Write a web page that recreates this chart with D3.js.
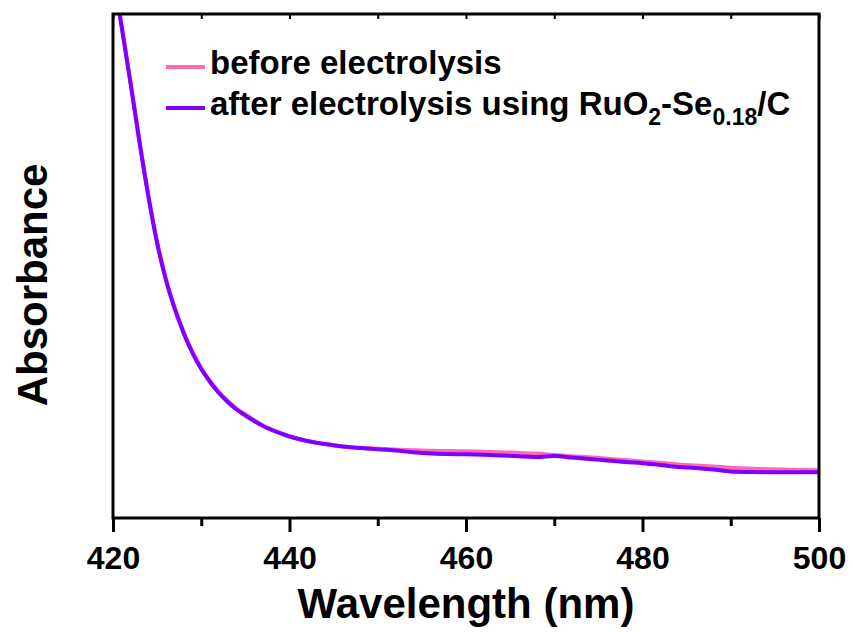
<!DOCTYPE html>
<html>
<head>
<meta charset="utf-8">
<script src="https://cdn.jsdelivr.net/npm/d3@7"></script>
<style>
  html, body { margin: 0; padding: 0; background: #fff; }
  svg text { font-family: Arial, "Liberation Sans", sans-serif; font-weight: bold; fill: #000; }
</style>
</head>
<body>
<svg id="chart" width="852" height="632"></svg>
<script>
// ---- data ----
const wavelength = [420,421,422,423,424,425,426,427,428,429,430,431,432,433,434,435,
  436,437,438,439,440,442,444,446,448,450,452,454,456,458,460,462,464,466,468,470,472,474,476,478,
  480,482,484,486,488,490,492,494,496,498,500];
const before = [1.0853,0.9742,0.8631,0.7480,0.6409,0.5476,0.4742,0.4167,0.3691,0.3294,0.2976,0.2718,0.2500,0.2322,0.2173,0.2054,
  0.1940,0.1837,0.1755,0.1684,0.1622,0.1531,0.1470,0.1421,0.1393,0.1375,0.1359,0.1345,0.1333,0.1329,0.1325,0.1315,0.1306,0.1290,0.1278,0.1250,0.1226,0.1204,0.1177,0.1151,
  0.1121,0.1095,0.1062,0.1042,0.1022,0.0996,0.0980,0.0968,0.0960,0.0952,0.0948];
const after = [1.0833,0.9722,0.8611,0.7460,0.6389,0.5456,0.4722,0.4147,0.3671,0.3274,0.2956,0.2698,0.2480,0.2302,0.2153,0.2034,
  0.1925,0.1825,0.1746,0.1677,0.1617,0.1528,0.1468,0.1419,0.1389,0.1365,0.1339,0.1304,0.1280,0.1270,0.1264,0.1254,0.1240,0.1226,0.1210,0.1230,0.1200,0.1171,0.1141,0.1111,
  0.1087,0.1052,0.1012,0.0992,0.0962,0.0923,0.0913,0.0909,0.0907,0.0907,0.0907];
const majorTicks = [420, 440, 460, 480, 500];
const minorTicks = [430, 450, 470, 490];
const seriesNames = ["before electrolysis", "after electrolysis using RuO2-Se0.18/C"];
const seriesColors = ["#ff69b4", "#8000ff"];

// ---- layout ----
const svg = d3.select("#chart");
const L = 113, R = 819, T = 14, B = 518;
const x = d3.scaleLinear().domain([420, 500]).range([L, R]);
const y = d3.scaleLinear().domain([0, 1]).range([B, T]);

svg.append("defs").append("clipPath").attr("id", "clip")
  .append("rect").attr("x", L).attr("y", T).attr("width", R - L).attr("height", B - T);

// lines
const line = d3.line().x(d => x(d[0])).y(d => y(d[1])).curve(d3.curveMonotoneX);
const series = [before, after];
series.forEach((vals, i) => {
  svg.append("path")
    .datum(wavelength.map((w, j) => [w, vals[j]]))
    .attr("clip-path", "url(#clip)")
    .attr("fill", "none")
    .attr("stroke", seriesColors[i])
    .attr("stroke-width", 4)
    .attr("stroke-linejoin", "round")
    .attr("d", line);
});

// frame
svg.append("rect").attr("x", L).attr("y", T).attr("width", R - L).attr("height", B - T)
  .attr("fill", "none").attr("stroke", "#000").attr("stroke-width", 3);

// bottom axis
const bottomAxis = svg.append("g").attr("transform", `translate(0,${B})`)
  .call(d3.axisBottom(x).tickValues(majorTicks).tickSize(14).tickPadding(14).tickFormat(d3.format("d")));
bottomAxis.select(".domain").remove();
bottomAxis.selectAll(".tick line").attr("stroke", "#000").attr("stroke-width", 3);
bottomAxis.selectAll(".tick text").attr("font-size", 32).attr("fill", "#000")
  .style("font-family", "Arial, 'Liberation Sans', sans-serif").style("font-weight", "bold");
const bottomMinor = svg.append("g").attr("transform", `translate(0,${B})`)
  .call(d3.axisBottom(x).tickValues(minorTicks).tickSize(8).tickFormat(""));
bottomMinor.select(".domain").remove();
bottomMinor.selectAll(".tick line").attr("stroke", "#000").attr("stroke-width", 3);

// top axis (inward ticks)
const topAxis = svg.append("g").attr("transform", `translate(0,${T})`)
  .call(d3.axisTop(x).tickValues(majorTicks.concat(minorTicks)).tickSize(-5).tickFormat(""));
topAxis.select(".domain").remove();
topAxis.selectAll(".tick line").attr("stroke", "#000").attr("stroke-width", 2);

// axis titles
svg.append("text").attr("x", (L + R) / 2).attr("y", 618).attr("text-anchor", "middle")
  .attr("font-size", 42).text("Wavelength (nm)");
svg.append("text").attr("transform", "translate(47,285) rotate(-90)").attr("text-anchor", "middle")
  .attr("font-size", 42).text("Absorbance");

// legend
const legY = [67, 108];
const legTextY = [74, 115];
svg.append("line").attr("x1", 166).attr("x2", 205).attr("y1", legY[0]).attr("y2", legY[0])
  .attr("stroke", seriesColors[0]).attr("stroke-width", 4);
svg.append("text").attr("x", 210).attr("y", legTextY[0]).attr("font-size", 33).text(seriesNames[0]);
svg.append("line").attr("x1", 166).attr("x2", 205).attr("y1", legY[1]).attr("y2", legY[1])
  .attr("stroke", seriesColors[1]).attr("stroke-width", 4);
const t2 = svg.append("text").attr("x", 210).attr("y", legTextY[1]).attr("font-size", 33);
t2.append("tspan").text("after electrolysis using RuO");
t2.append("tspan").attr("font-size", 23).attr("dy", 10).text("2");
t2.append("tspan").attr("dy", -10).text("-Se");
t2.append("tspan").attr("font-size", 23).attr("dy", 10).text("0.18");
t2.append("tspan").attr("dy", -10).text("/C");
</script>
</body>
</html>
